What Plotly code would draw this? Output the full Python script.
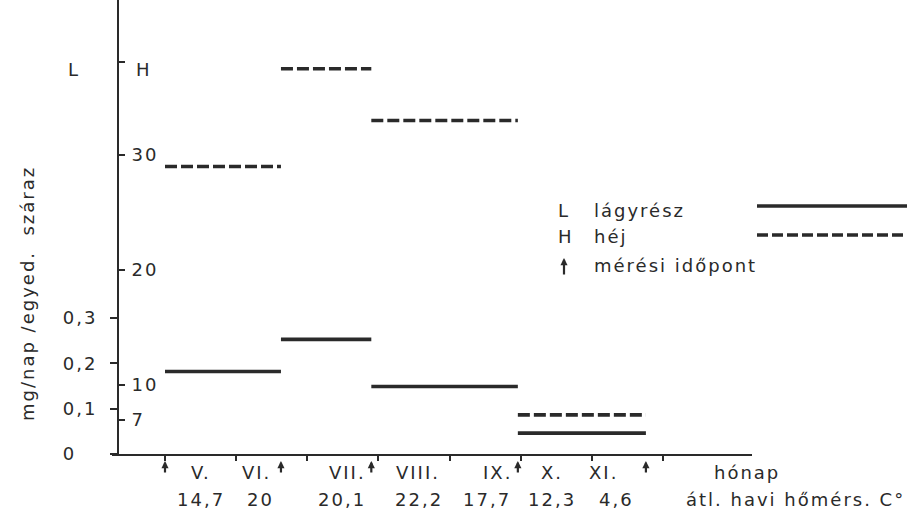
import plotly.graph_objects as go

# ---------------- data ----------------
months = ["V.", "VI.", "VII.", "VIII.", "IX.", "X.", "XI."]
temps = [14.7, 20, 20.1, 22.2, 17.7, 12.3, 4.6]
measure_times = [0.0, 1.63, 2.90, 4.96, 6.76]      # months since 1 May (measurement dates)
L_values = [0.182, 0.253, 0.149, 0.046]             # lágyrész, mg/nap/egyed
H_values = [29.0, 37.5, 33.0, 7.4]                  # héj, mg/nap/egyed
L_ticks = [0, 0.1, 0.2, 0.3]
H_ticks = [7, 10, 20, 30, 38.1]

# ---------------- layout constants ----------------
W, HGT = 907, 517
ML, MR, MT, MB = 112, 155, 0, 63
PW, PH = W - ML - MR, HGT - MT - MB
X0_PX, UNIT = 165, 71.14          # pixel of month 0, pixels per month
L_PX = 453.0                      # pixels per 1.0 mg (L scale)
H_PX = 11.5                       # pixels per 1 mg (H scale)
H_BOTTOM = 4.0
INK = "#2a2a2a"
FONT = "DejaVu Sans"
FS = 18
LS = 2
month_nudge = [0.0, -0.21, 0.06, 0.06, 0.17, -0.06, -0.33]
temp_nudge = [0.0, -0.16, -0.01, 0.07, 0.03, -0.06, -0.16]
ROW1, ROW2 = 472, 500


def sp(t, ls=LS):
    return '<span style="letter-spacing:%gpx">%s</span>' % (ls, t)


def px_x(px):
    return (px - ML) / PW


def px_y(py):
    return (MT + PH - py) / PH


def comma(v):
    s = ("%g" % v)
    return s.replace(".", ",")


def steps(bounds, vals):
    xs, ys = [], []
    for i, v in enumerate(vals):
        xs += [bounds[i], bounds[i + 1], None]
        ys += [v, v, None]
    return xs, ys


fig = go.Figure()
lx, ly = steps(measure_times, L_values)
hx, hy = steps(measure_times, H_values)
fig.add_trace(go.Scatter(x=lx, y=ly, mode="lines", yaxis="y",
                         line=dict(color=INK, width=3.6), showlegend=False,
                         name="lágyrész"))
fig.add_trace(go.Scatter(x=hx, y=hy, mode="lines", yaxis="y2",
                         line=dict(color=INK, width=3.6, dash="12px,4px"),
                         showlegend=False, name="héj"))

L_text = []
for v in L_ticks:
    t = comma(v)
    if t == "0":
        t = "0\u2008\u2007"
    L_text.append(sp(t))
H_text = [sp(comma(v)) if v != H_ticks[-1] else "" for v in H_ticks]

tickfont = dict(family=FONT, size=FS, color=INK)

fig.update_layout(
    width=W, height=HGT,
    margin=dict(l=ML, r=MR, t=MT, b=MB, pad=0),
    paper_bgcolor="white", plot_bgcolor="white",
    font=dict(family=FONT, size=FS, color=INK),
    showlegend=False,
    xaxis=dict(range=[(ML - X0_PX) / UNIT, (W - MR - X0_PX) / UNIT],
               tickvals=list(range(8)), showticklabels=False,
               ticks="outside", ticklen=5, tickwidth=1.5, tickcolor=INK,
               showline=True, linewidth=2, linecolor=INK,
               showgrid=False, zeroline=False, anchor="y"),
    yaxis=dict(range=[0, PH / L_PX], anchor="free", position=px_x(118),
               side="left", tickvals=L_ticks, ticktext=L_text,
               ticks="outside", ticklen=7, tickwidth=1.5, tickcolor=INK,
               ticklabelstandoff=9, tickfont=tickfont,
               showline=True, linewidth=2, linecolor=INK,
               showgrid=False, zeroline=False),
    yaxis2=dict(range=[H_BOTTOM, H_BOTTOM + PH / H_PX], overlaying="y",
                anchor="free", position=px_x(118), side="right",
                tickvals=H_ticks, ticktext=H_text,
                ticks="outside", ticklen=6, tickwidth=1.5, tickcolor=INK,
                ticklabelstandoff=3, tickfont=tickfont,
                showline=False, showgrid=False, zeroline=False),
)

ann = []
# axis titles
ann.append(dict(text=sp("L"), xref="paper", yref="paper", x=px_x(74), y=px_y(70),
                showarrow=False, xanchor="center", yanchor="middle"))
ann.append(dict(text=sp("H"), xref="paper", yref="paper", x=px_x(144), y=px_y(70),
                showarrow=False, xanchor="center", yanchor="middle"))
ann.append(dict(text=sp("mg/nap /egyed.  száraz"), xref="paper", yref="paper",
                x=px_x(28), y=px_y(294), textangle=-90, showarrow=False,
                xanchor="center", yanchor="middle"))
# month labels and temperatures
for i, (m, t) in enumerate(zip(months, temps)):
    ann.append(dict(text=sp(m), xref="x", yref="paper", x=i + 0.5 + month_nudge[i],
                    y=px_y(ROW1), showarrow=False, xanchor="center", yanchor="middle"))
    ann.append(dict(text=sp(comma(t)), xref="x", yref="paper", x=i + 0.5 + temp_nudge[i],
                    y=px_y(ROW2), showarrow=False, xanchor="center", yanchor="middle"))
ann.append(dict(text=sp("hónap"), xref="paper", yref="paper", x=px_x(712), y=px_y(ROW1),
                showarrow=False, xanchor="left", yanchor="middle"))
ann.append(dict(text=sp("átl. havi hőmérs. C°"), xref="paper", yref="paper", x=px_x(684),
                y=px_y(ROW2), showarrow=False, xanchor="left", yanchor="middle"))
# measurement arrows
for t in measure_times:
    ann.append(dict(text="", xref="x", yref="paper", x=t, y=px_y(461),
                    ax=0, ay=13, showarrow=True, arrowhead=2, arrowsize=0.65,
                    arrowwidth=2.2, arrowcolor=INK))
# legend
ann.append(dict(text=sp("L"), xref="paper", yref="paper", x=px_x(556), y=px_y(210),
                showarrow=False, xanchor="left", yanchor="middle"))
ann.append(dict(text=sp("lágyrész"), xref="paper", yref="paper", x=px_x(592), y=px_y(210),
                showarrow=False, xanchor="left", yanchor="middle"))
ann.append(dict(text=sp("H"), xref="paper", yref="paper", x=px_x(556), y=px_y(237),
                showarrow=False, xanchor="left", yanchor="middle"))
ann.append(dict(text=sp("héj"), xref="paper", yref="paper", x=px_x(592), y=px_y(237),
                showarrow=False, xanchor="left", yanchor="middle"))
ann.append(dict(text=sp("mérési időpont"), xref="paper", yref="paper", x=px_x(592),
                y=px_y(265), showarrow=False, xanchor="left", yanchor="middle"))
ann.append(dict(text="", xref="paper", yref="paper", x=px_x(564), y=px_y(258),
                ax=0, ay=18, showarrow=True, arrowhead=2, arrowsize=0.65,
                arrowwidth=2.2, arrowcolor=INK))
fig.update_layout(annotations=ann)

fig.update_layout(shapes=[
    dict(type="line", xref="paper", yref="paper", x0=px_x(757), x1=px_x(907),
         y0=px_y(206), y1=px_y(206), line=dict(color=INK, width=3.6)),
    dict(type="line", xref="paper", yref="paper", x0=px_x(757), x1=px_x(907),
         y0=px_y(235), y1=px_y(235), line=dict(color=INK, width=3.6, dash="11px,4px")),
])

fig.write_html("out.html")
